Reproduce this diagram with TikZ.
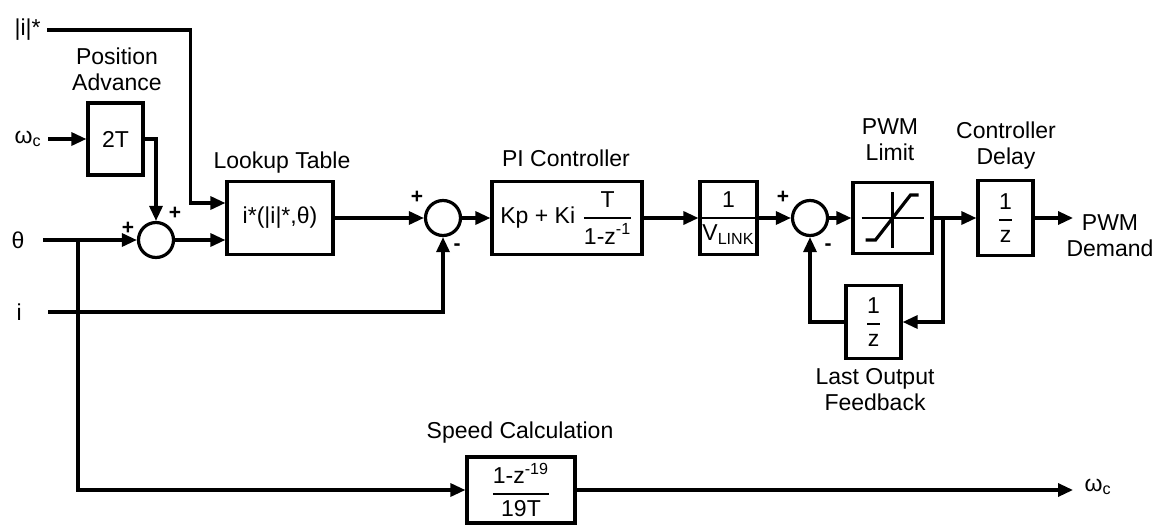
\documentclass[tikz,border=0pt]{standalone}
\usepackage{amsmath}
\usepackage{fontspec}
\setmainfont{Liberation Sans}
\usetikzlibrary{positioning,arrows.meta}

\newcommand{\tfr}[2]{\genfrac{}{}{0.9pt}{0}{\text{#1}}{\text{#2}}}

\begin{document}
\begin{tikzpicture}[
  x=0.5pt, y=-0.5pt,
  font=\fontsize{11.5}{13}\selectfont,
  line width=1.6pt,
  blk/.style  = {draw, inner sep=0pt, align=center,
                 minimum width=27.5pt, minimum height=36.5pt},
  sumpt/.style = {draw, circle, minimum size=17.5pt, inner sep=0pt},
  txt/.style  = {align=center, inner sep=0pt},
  sgn/.style  = {font=\fontsize{10.5}{10.5}\selectfont\bfseries, inner sep=0pt},
  arr/.style  = {-{Triangle[length=7.5pt,width=6.5pt]}},
]
\useasboundingbox (0,0) rectangle (1160,525);

% inputs
\node[txt, anchor=west] (imag) at (13,30) {|i|*};
\node[txt, anchor=west] (wc) at (13,139) {ω\textsubscript{c}};
\node[txt, anchor=west] (th) at (10,240) {θ};
\node[txt, anchor=west] (ii) at (15,312) {i};

% blocks
\node[blk, minimum height=36pt] (adv) at (115.5,139) {2T};
\node[sumpt] (sum1) at (156,240) {};
\node[blk, minimum width=53pt] (lut) at (280,218) {i*(|i|*,θ)};
\node[sumpt] (sum2) at (443,218) {};
\node[blk, minimum width=75pt] (pi) at (567,218) {Kp + Ki \(\genfrac{}{}{0.9pt}{0}{\text{T}}{\text{1-z}^{\text{-1}}}\)};
\node[blk] (vlink) at (728.5,218) {\(\genfrac{}{}{0.9pt}{0}{\text{1}}{\text{V}_{\text{LINK}}}\)};
\node[sumpt] (sum3) at (810,218) {};
\node[blk, minimum width=39.5pt, minimum height=35.5pt] (lim) at (892.5,218) {};
\node[blk] (fb) at (873.5,322) {\(\tfr{1}{z}\)};
\node[blk, minimum height=37.5pt] (dly) at (1005.5,218) {\(\tfr{1}{z}\)};
\node[blk, minimum width=54pt, minimum height=33pt] (spd) at (521,490) {\(\genfrac{}{}{0.9pt}{0}{\text{1-z}^{\text{-19}}}{\text{19T}}\)};

% saturation curve
\draw[line width=1.1pt] ([xshift=-15.5pt]lim.center) -- ([xshift=15.5pt]lim.center);
\draw[line width=1.1pt] ([yshift=13pt]lim.center) -- ([yshift=-15pt]lim.center);
\draw ([shift={(-27,22)}]lim.center) -- ++(10,0) -- ++(35,-45) -- ++(8,0);

% titles
\node[txt] at (117,69) {Position\\Advance};
\node[txt] at (282,163) {Lookup Table};
\node[txt] at (566,158) {PI Controller};
\node[txt] at (890,140) {PWM\\Limit};
\node[txt] at (1006,146) {Controller\\Delay};
\node[txt] at (875,390) {Last Output\\Feedback};
\node[txt] at (520,433) {Speed Calculation};
\node[txt] (pwm) at (1110,236) {PWM\\Demand};
\node[txt, anchor=west] (wcout) at (1083,487) {ω\textsubscript{c}};

% signs
\node[sgn] at (128,228) {+};
\node[sgn] at (175,213) {+};
\node[sgn] at (417,197) {+};
\node[sgn] at (457,247) {-};
\node[sgn] at (783,197) {+};
\node[sgn] at (828,247) {-};

\coordinate (tap) at (78,240);
\coordinate (br) at (943,218);
\coordinate (pwmin) at (1073,218);
\coordinate (wcin) at (1073,490);

\draw[arr] ([xshift=2.5pt]imag.east) -| ([xshift=-17.5pt,yshift=7.5pt]lut.west) -- ([yshift=7.5pt]lut.west);
\draw[arr] ([xshift=2.5pt]wc.east) -- (adv.west);
\draw[arr] (adv.east) -| (sum1.north);
\draw[arr] ([xshift=8.5pt]th.east) -- (sum1.west);
\draw[arr] (sum1.east) -- (sum1.east -| lut.west);
\draw[arr] (lut.east) -- (sum2.west);
\draw[arr] ([xshift=12.5pt]ii.east) -| (sum2.south);
\draw[arr] (tap) |- (spd.west);
\draw[arr] (spd.east) -- (wcin);
\draw[arr] (sum2.east) -- (pi.west);
\draw[arr] (pi.east) -- (vlink.west);
\draw[arr] (vlink.east) -- (sum3.west);
\draw[arr] (sum3.east) -- (lim.west);
\draw[arr] (lim.east) -- (dly.west);
\draw[arr] (dly.east) -- (pwmin);
\draw[arr] (br) |- (fb.east);
\draw[arr] (fb.west) -| (sum3.south);

\end{tikzpicture}
\end{document}
